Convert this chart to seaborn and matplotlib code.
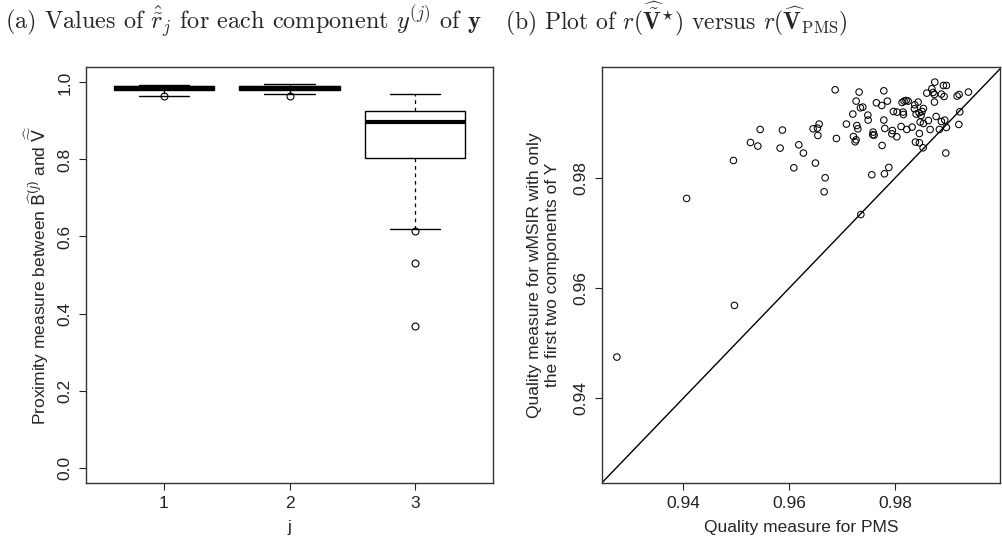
import numpy as np
import pandas as pd
import matplotlib
matplotlib.use("Agg")
import matplotlib.pyplot as plt
import seaborn as sns

# ---------------- data ----------------
components = ["1", "2", "3"]
comp1_values = [0.9635, 0.9660, 0.972, 0.977, 0.9797, 0.981, 0.983, 0.984, 0.985,
                0.986, 0.987, 0.988, 0.9895, 0.990, 0.991, 0.992, 0.9940]
comp2_values = [0.9640, 0.9700, 0.975, 0.978, 0.9808, 0.982, 0.984, 0.985, 0.986,
                0.987, 0.988, 0.989, 0.990, 0.991, 0.993, 0.995, 0.9966]
comp3_values = [0.368, 0.532, 0.614, 0.620, 0.803, 0.840, 0.870, 0.890, 0.898,
                0.905, 0.912, 0.920, 0.927, 0.935, 0.945, 0.955, 0.969]

pms_quality = [0.9406, 0.94945, 0.95267, 0.95406, 0.9545, 0.95871, 0.95828, 0.96087,
               0.96181, 0.96268, 0.96452, 0.96565, 0.96533, 0.96541, 0.96495, 0.96679,
               0.9666, 0.96868, 0.96892, 0.97081, 0.97202, 0.97265, 0.97321, 0.97346,
               0.97391, 0.97278, 0.97297, 0.97214, 0.97265, 0.97246, 0.97486, 0.97492,
               0.97586, 0.9758, 0.97605, 0.97561, 0.97648, 0.9775, 0.97788, 0.97788,
               0.97807, 0.97756, 0.978, 0.97883, 0.97856, 0.97951, 0.9794, 0.9797,
               0.9804, 0.98034, 0.98115, 0.98134, 0.98172, 0.9821, 0.98248, 0.98153,
               0.98159, 0.98223, 0.98323, 0.98374, 0.98437, 0.98367, 0.98399, 0.98456,
               0.98512, 0.98537, 0.98493, 0.98475, 0.98537, 0.98631, 0.98461, 0.98386,
               0.98461, 0.98531, 0.98664, 0.98601, 0.98696, 0.9872, 0.98752, 0.98745,
               0.98745, 0.98777, 0.98839, 0.98877, 0.98928, 0.98915, 0.98972, 0.98877,
               0.98941, 0.98972, 0.9896, 0.99174, 0.99212, 0.99388, 0.99225, 0.99206,
               0.97354, 0.94964, 0.92741]
wmsir_quality = [0.9763, 0.9832, 0.98647, 0.98582, 0.98884, 0.98873, 0.98545, 0.98187,
                 0.98605, 0.98455, 0.98896, 0.98982, 0.98909, 0.98775, 0.98273, 0.98005,
                 0.97751, 0.99605, 0.9872, 0.98982, 0.99164, 0.994, 0.99564, 0.99278,
                 0.99291, 0.98956, 0.98896, 0.98756, 0.98696, 0.9866, 0.99145, 0.99055,
                 0.98836, 0.98787, 0.98782, 0.9806, 0.99369, 0.9932, 0.99587, 0.99055,
                 0.98902, 0.98593, 0.98078, 0.98193, 0.994, 0.98865, 0.98805, 0.99211,
                 0.992, 0.98751, 0.98938, 0.99375, 0.994, 0.99411, 0.994, 0.992,
                 0.99156, 0.98884, 0.98927, 0.99333, 0.99382, 0.9926, 0.99164, 0.99187,
                 0.99211, 0.99265, 0.99138, 0.99018, 0.98993, 0.99047, 0.98811, 0.98655,
                 0.98642, 0.98551, 0.98884, 0.99545, 0.99624, 0.99556, 0.99745, 0.9952,
                 0.99382, 0.9912, 0.98884, 0.99527, 0.99484, 0.99684, 0.99684, 0.99029,
                 0.99055, 0.9892, 0.98455, 0.99491, 0.9952, 0.99564, 0.99205, 0.98975,
                 0.97338, 0.95684, 0.94745]

left_yticks = [0.0, 0.2, 0.4, 0.6, 0.8, 1.0]
right_ticks = [0.94, 0.96, 0.98]

# ---------------- style ----------------
sns.set_style("ticks")
plt.rcParams["font.family"] = ["Liberation Sans", "DejaVu Sans"]
plt.rcParams["axes.edgecolor"] = "#333333"
plt.rcParams["axes.linewidth"] = 1.0

fig = plt.figure(figsize=(10.02, 5.48), dpi=100)
axL = fig.add_axes([86 / 1002, 1 - 483 / 548, 407 / 1002, 416 / 548])
axR = fig.add_axes([602 / 1002, 1 - 483 / 548, 398 / 1002, 416 / 548])

# ---------------- left: boxplots ----------------
box_df = pd.DataFrame({
    "j": [components[0]] * len(comp1_values) + [components[1]] * len(comp2_values)
         + [components[2]] * len(comp3_values),
    "value": comp1_values + comp2_values + comp3_values,
})
sns.boxplot(data=box_df, x="j", y="value", order=components, ax=axL,
            color="white", linecolor="black", linewidth=1.0, width=0.8, whis=1.5,
            fliersize=5, saturation=1,
            flierprops=dict(marker="o", markerfacecolor="none", markeredgecolor="black",
                            markeredgewidth=0.8),
            medianprops=dict(linewidth=3, color="black"),
            whiskerprops=dict(linestyle=(0, (3, 3)), linewidth=0.9),
            capprops=dict(linewidth=1.0),
            boxprops=dict(linewidth=1.0, edgecolor="black"))
axL.set_xlim(-0.62, 2.62)
axL.set_ylim(-0.04, 1.04)
axL.set_yticks(left_yticks)
axL.set_yticklabels([f"{t:.1f}" for t in left_yticks])
axL.set_xlabel("j", fontsize=12.5)
axL.set_ylabel(r"Proximity measure between $\widehat{\mathsf{B}}^{(j)}$ and $\widehat{\widetilde{\mathsf{V}}}$",
               fontsize=12.5)
axL.xaxis.set_label_coords(0.5, -0.106)
axL.xaxis.label.set_va("center")
axL.yaxis.set_label_coords(-0.12, 0.5)
axL.yaxis.label.set_va("center")

# ---------------- right: scatter ----------------
sc_df = pd.DataFrame({"pms": pms_quality, "wmsir": wmsir_quality})
sns.scatterplot(data=sc_df, x="pms", y="wmsir", ax=axR, marker="o",
                facecolors="none", edgecolor="black", linewidth=0.75, s=22)
axR.axline((0.93, 0.93), slope=1, color="black", linewidth=1.0)
axR.set_xlim(0.9246, 0.99985)
axR.set_ylim(0.92455, 1.0002)
axR.set_xticks(right_ticks)
axR.set_yticks(right_ticks)
axR.set_xticklabels([f"{t:.2f}" for t in right_ticks])
axR.set_yticklabels([f"{t:.2f}" for t in right_ticks])
axR.set_xlabel("Quality measure for PMS", fontsize=12.5)
axR.set_ylabel("Quality measure for wMSIR with only\nthe first two components of Y",
               fontsize=12.5, linespacing=1.25)
axR.xaxis.set_label_coords(0.5, -0.106)
axR.xaxis.label.set_va("center")
axR.yaxis.set_label_coords(-0.148, 0.5)
axR.yaxis.label.set_va("center")

for ax in (axL, axR):
    ax.tick_params(axis="both", direction="out", length=5, width=0.8,
                   labelsize=12.5, pad=4.5, colors="#222222")
    for lab in ax.get_yticklabels():
        lab.set_rotation(90)
        lab.set_va("center")
    for sp in ax.spines.values():
        sp.set_visible(True)
        sp.set_color("#333333")
    ax.grid(False)

# ---------------- titles ----------------
fig.text(5 / 1002, 1 - 29 / 548,
         r"(a) Values of $\hat{\tilde{r}}_j$ for each component $y^{(j)}$ of $\mathbf{y}$",
         family="cmr10", math_fontfamily="cm", fontsize=17.5, va="baseline", ha="left")
fig.text(505 / 1002, 1 - 29 / 548,
         r"(b) Plot of $r(\widehat{\tilde{\mathbf{V}}}^{\star})$ versus $r(\widehat{\mathbf{V}}_{\mathrm{PMS}})$",
         family="cmr10", math_fontfamily="cm", fontsize=17, va="baseline", ha="left")

fig.savefig("out.png", dpi=100, facecolor="white")
